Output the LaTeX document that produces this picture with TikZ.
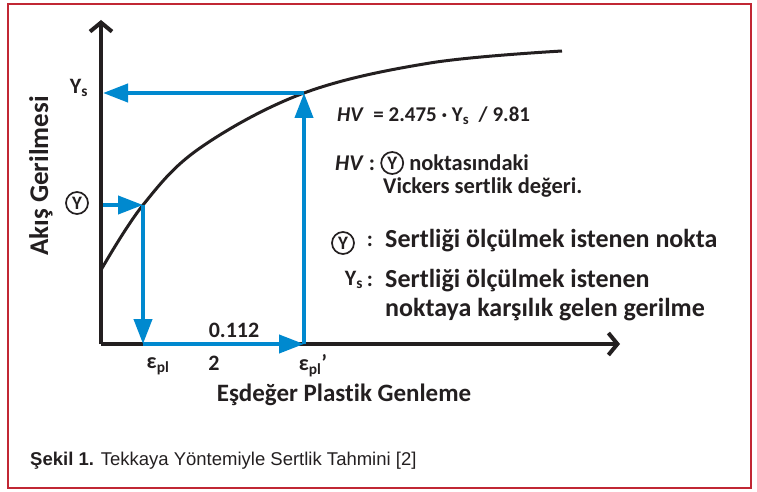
\documentclass[tikz,border=0pt]{standalone}
\usepackage{fontspec}
\setmainfont{Carlito}[Ligatures=NoCommon]
\newfontfamily\capfont{Liberation Sans}
\usetikzlibrary{arrows.meta, positioning}
\definecolor{cFrame}{RGB}{193,39,52}
\definecolor{cBlue}{RGB}{0,137,207}
\definecolor{cInk}{RGB}{35,31,32}
\tikzset{
	axisline/.style ={-{Straight Barb[length=9pt, width=22pt]}, line width=4pt, cInk},
	curveline/.style={line width=3pt, cInk},
	guide/.style    ={-{Triangle[length=25pt, width=18pt]}, line width=4pt, cBlue},
	lbl/.style      ={font=\bfseries\fontsize{22}{24}\selectfont, text=cInk, inner sep=0pt},
	note/.style     ={font=\bfseries\fontsize{26}{28}\selectfont, text=cInk, inner sep=0pt, anchor=west},
	hvnote/.style   ={note, font=\bfseries\fontsize{22.5}{24}\selectfont},
	circY/.style    ={circle, draw=cInk, line width=1.7pt, inner sep=0pt, minimum size=22pt, font=\bfseries\fontsize{19}{19}\selectfont, text=cInk},
}

\begin{document}
\begin{tikzpicture}[x=1pt, y=-1pt]
	\useasboundingbox (0,0) rectangle (757,492);
	\draw[cFrame, line width=2pt] (8,4) rectangle (751,488);
	% axes and flow curve
	\coordinate (O) at (101,344);
	\coordinate (yTip) at (101,20);
	\coordinate (xTip) at (620,344);
	\draw[axisline] (O) -- (yTip);
	\draw[axisline] (O) -- (xTip);
	\draw[curveline] plot[smooth, tension=0.6] coordinates {(101,270) (143,205) (200,148) (304,93) (430,63) (562,51)};
	% blue guides
	\coordinate (Y) at (143,205);
	\coordinate (S) at (304,93);
	\coordinate (epA) at (143,344);
	\coordinate (epB) at (304,344);
	\coordinate (axY) at (103,205);
	\coordinate (axS) at (103,93);
	\draw[guide] (axY) -- (Y);
	\draw[guide] (Y) -- (epA);
	\draw[guide] (epA) -- (epB);
	\draw[guide] (epB) -- (S);
	\draw[guide] (S) -- (axS);
	% axis labels
	\node[lbl] (ysAxis) at (79,88) {Y\textsubscript{s}};
	\node[circY] (yAxis) at (77,203) {Y};
	\node[lbl, font=\bfseries\fontsize{27}{28}\selectfont, rotate=90] (yTitle) at (41,176) {Akış Gerilmesi};
	\node[lbl] (epsA) at (158,366) {ε\textsubscript{pl}};
	\node[lbl] (two) at (214,363) {2};
	\node[lbl] (dEps) at (234,330) {0.112};
	\node[lbl] (epsB) at (313,366) {ε\textsubscript{pl}’};
	\node[lbl, font=\bfseries\fontsize{25}{27}\selectfont] (xTitle) at (344,395) {Eşdeğer Plastik Genleme};
	% legend
	\node[hvnote, font=\bfseries\fontsize{21}{24}\selectfont] (hvEq) at (337,116) {\textit{HV}~ = 2.475 · Y\textsubscript{s}~ / 9.81};
	\node[hvnote] (hvKey) at (335,163) {\textit{HV} :};
	\node[circY, right=5pt of hvKey] (hvCirc) {Y};
	\node[hvnote, right=5pt of hvCirc] (hvTxt) {noktasındaki};
	\node[hvnote] (hvTxtB) at (383,188) {Vickers sertlik değeri.};
	\node[circY] (keyCirc) at (343,243) {Y};
	\node[lbl] (colA) at (370,241) {:};
	\node[note] (keyTxt) at (385,241) {Sertliği ölçülmek istenen nokta};
	\node[lbl] (keyYs) at (354,280) {Y\textsubscript{s}};
	\node[lbl] (colB) at (370,281) {:};
	\node[note] (ysTxt) at (385,281) {Sertliği ölçülmek istenen};
	\node[note] (ysTxtB) at (385,310) {noktaya karşılık gelen gerilme};
	% caption
	\node[anchor=west, inner sep=0pt, text=cInk, font=\capfont\fontsize{18.5}{20}\selectfont] (caption) at (30,461) {\textbf{Şekil 1.} Tekkaya Yöntemiyle Sertlik Tahmini [2]};
\end{tikzpicture}
\end{document}
